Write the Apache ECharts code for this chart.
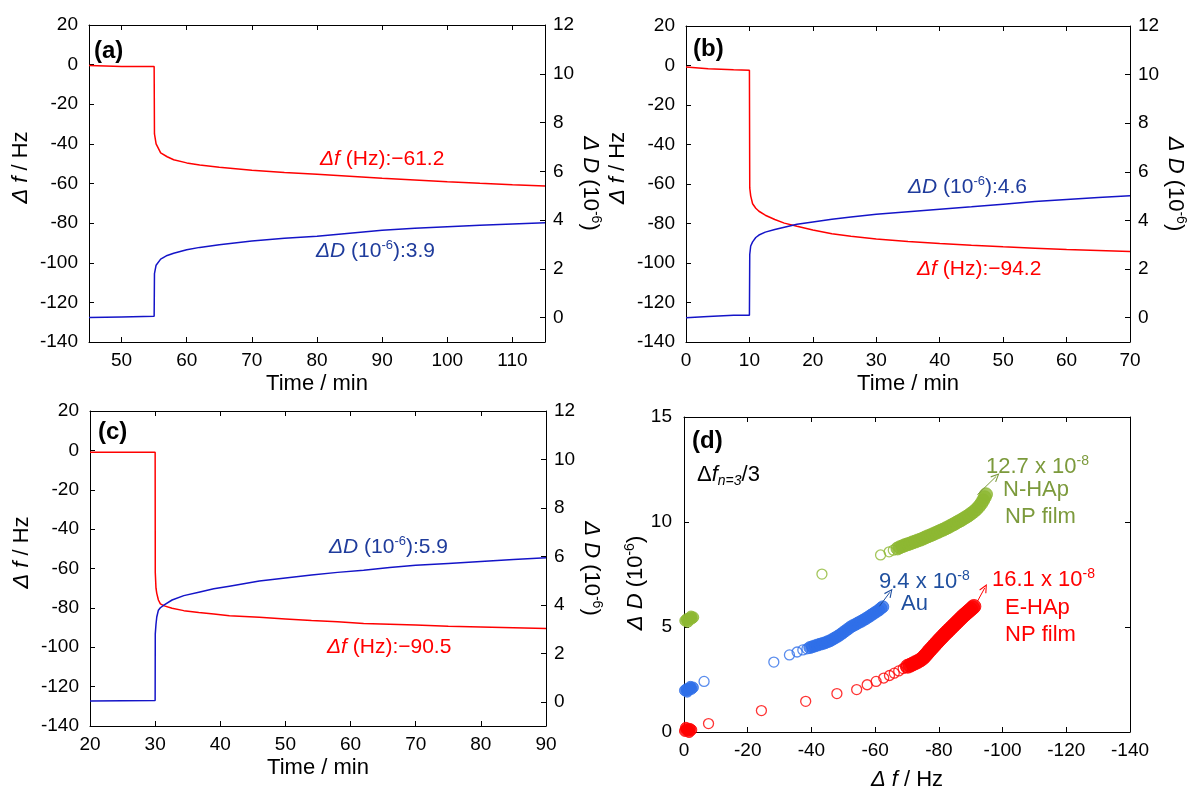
<!DOCTYPE html>
<html><head><meta charset="utf-8">
<script src="https://cdn.jsdelivr.net/npm/echarts@6/dist/echarts.min.js"></script>
<style>html,body{margin:0;padding:0;background:#fff}#c{width:1189px;height:787px}</style>
</head><body><div id="c"></div>
<script>
// ---------- Panel (a) ----------
const timeA = [45, 50, 55, 55.05, 55.3, 56, 57, 58, 60, 62, 65, 70, 75, 80, 85, 90, 95, 100, 105, 110, 115];
const dfA   = [-0.5, -1, -1, -35, -40, -44.5, -46.5, -48, -49.6, -50.7, -51.8, -53.3, -54.4, -55.3, -56.3, -57.3, -58.2, -59.1, -59.9, -60.6, -61.2];
const dDA   = [0, 0.03, 0.06, 1.8, 2.15, 2.4, 2.55, 2.64, 2.78, 2.88, 2.99, 3.14, 3.25, 3.34, 3.46, 3.58, 3.66, 3.73, 3.79, 3.84, 3.89];
const ticksA = [50, 60, 70, 80, 90, 100, 110];
// ---------- Panel (b) ----------
const timeB = [0, 3.5, 7.5, 10, 10.05, 10.2, 10.5, 11, 11.5, 12.5, 14, 15.5, 17.5, 20, 23, 26, 30, 35, 40, 45, 50, 55, 60, 65, 70];
const dfB   = [-0.8, -1.6, -2.2, -2.4, -62, -66, -70, -72.3, -73.8, -75.8, -78, -79.8, -81.4, -83.3, -85.2, -86.5, -87.8, -89.1, -90.1, -91.0, -91.8, -92.5, -93.2, -93.7, -94.2];
const dDB   = [0, 0.05, 0.1, 0.1, 2.6, 2.95, 3.12, 3.3, 3.4, 3.52, 3.63, 3.72, 3.84, 3.94, 4.05, 4.14, 4.26, 4.36, 4.46, 4.56, 4.67, 4.78, 4.86, 4.94, 5.02];
const ticksB = [0, 10, 20, 30, 40, 50, 60, 70];
// ---------- Panel (c) ----------
const timeC = [20, 30, 30.02, 30.13, 30.25, 30.5, 30.8, 31.4, 32.6, 34.4, 36.7, 39, 41.4, 46, 50, 54, 58, 62, 66, 70, 75, 80, 85, 90];
const dfC   = [-1, -1, -62, -70, -72.6, -76, -78, -79, -80.2, -81.4, -82.3, -83.1, -84, -84.8, -85.6, -86.4, -87.1, -87.9, -88.3, -88.7, -89.3, -89.7, -90.1, -90.5];
const dDC   = [0.03, 0.05, 2.8, 3.2, 3.5, 3.78, 3.88, 4.0, 4.2, 4.38, 4.52, 4.66, 4.77, 4.98, 5.11, 5.23, 5.34, 5.43, 5.54, 5.63, 5.71, 5.79, 5.87, 5.94];
const ticksC = [20, 30, 40, 50, 60, 70, 80, 90];
const ticksD  = [0, 2, 4, 6, 8, 10, 12];
// ---------- Panel (d): [Δf, ΔD] ----------
const nhapCluster = [[-0.4,5.30],[-0.9,5.38],[-1.4,5.34],[-1.9,5.42],[-2.4,5.40],[-2.9,5.46],[-1.2,5.25],[-2.2,5.50]];
const nhapSparse  = [[-43.3,7.52],[-61.7,8.43],[-64.4,8.58],[-65.7,8.66]];
const nhapDense   = [[-67.0,8.74],[-67.8,8.80],[-68.6,8.85],[-69.4,8.90],[-70.2,8.94],[-71.0,8.98],[-71.8,9.03],[-72.6,9.07],[-73.4,9.12],[-74.2,9.16],[-75.0,9.21],[-75.8,9.27],[-76.6,9.32],[-77.4,9.37],[-78.2,9.42],[-79.0,9.48],[-79.8,9.53],[-80.6,9.59],[-81.4,9.64],[-82.2,9.70],[-83.0,9.76],[-83.8,9.83],[-84.6,9.89],[-85.4,9.96],[-86.2,10.03],[-87.0,10.09],[-87.8,10.17],[-88.6,10.24],[-89.4,10.32],[-90.2,10.41],[-91.0,10.50],[-91.8,10.61],[-92.6,10.74],[-93.3,10.88],[-93.9,11.03],[-94.4,11.18],[-94.8,11.32]];
const auCluster = [[-0.3,1.98],[-0.8,2.04],[-1.3,2.00],[-1.8,2.08],[-2.3,2.05],[-2.8,2.12],[-1.0,1.92],[-2.0,2.15]];
const auSparse  = [[-6.3,2.41],[-28.2,3.33],[-33.1,3.67],[-35.5,3.81],[-37.3,3.91],[-38.6,3.96]];
const auDense   = [[-39.5,4.02],[-40.3,4.06],[-41.1,4.10],[-41.9,4.14],[-42.7,4.18],[-43.5,4.21],[-44.3,4.25],[-45.1,4.30],[-45.9,4.35],[-46.7,4.42],[-47.5,4.49],[-48.3,4.56],[-49.1,4.64],[-49.9,4.73],[-50.7,4.82],[-51.5,4.91],[-52.3,5.00],[-53.1,5.07],[-53.9,5.13],[-54.7,5.20],[-55.5,5.26],[-56.3,5.33],[-57.1,5.40],[-57.9,5.48],[-58.7,5.56],[-59.5,5.64],[-60.3,5.72],[-61.1,5.80],[-61.8,5.89],[-62.4,5.96]];
const ehapCluster = [[-0.3,0.05],[-0.8,0.12],[-1.3,0.08],[-1.8,0.15],[-2.3,0.10],[-0.6,0.20],[-1.6,0.00]];
const ehapSparse  = [[-7.7,0.40],[-24.3,1.02],[-38.2,1.46],[-48.0,1.83],[-54.2,2.02],[-57.5,2.25],[-60.3,2.41],[-62.7,2.57],[-64.5,2.69],[-66.0,2.80],[-67.4,2.91],[-68.8,3.02],[-69.6,3.08]];
const ehapDense   = [[-70.2,3.13],[-71.0,3.18],[-71.8,3.24],[-72.6,3.30],[-73.4,3.36],[-74.2,3.43],[-75.0,3.52],[-75.6,3.62],[-76.2,3.72],[-76.8,3.83],[-77.4,3.93],[-78.0,4.03],[-78.6,4.13],[-79.2,4.23],[-79.8,4.33],[-80.4,4.43],[-81.0,4.52],[-81.6,4.62],[-82.2,4.71],[-82.8,4.80],[-83.4,4.89],[-84.0,4.98],[-84.6,5.07],[-85.2,5.16],[-85.8,5.25],[-86.4,5.34],[-87.0,5.43],[-87.6,5.52],[-88.2,5.60],[-88.8,5.68],[-89.4,5.76],[-90.0,5.84],[-90.6,5.92],[-91.0,5.98]];

// ---------- styling ----------
const FONT = "'Liberation Sans', Arial, sans-serif";
const RED = '#ff0000', BLUE = '#1414c8', BLUETXT = '#1f3c9c';
const GREEN = '#8db832', GREENTXT = '#7c9a3c', BLUED = '#2f6fe8', BLUEDTXT = '#1f4f9f';
const TICK = 19, TITLE = 22;
const axLine = {show: true, onZero: false, lineStyle: {color: '#000', width: 1}};
const tick = (cv) => Object.assign({show: true, inside: true, length: 5, lineStyle: {color: '#000', width: 1}}, cv ? {customValues: cv} : {});
const lab = (cv, margin) => Object.assign({color: '#000', fontFamily: FONT, fontSize: TICK, margin: margin}, cv ? {customValues: cv} : {});
const nameRich = {
  i: {fontStyle: 'italic', fontFamily: FONT, fontSize: TITLE, color: '#000', lineHeight: 26},
  n: {fontFamily: FONT, fontSize: TITLE, color: '#000', lineHeight: 26},
  s: {fontFamily: FONT, fontSize: 14, color: '#000', lineHeight: 13, verticalAlign: 'top'}
};

const grids = [
  {left: 89, top: 25, width: 456, height: 317, outerBoundsMode: 'none', containLabel: false},
  {left: 686, top: 26, width: 444, height: 316, outerBoundsMode: 'none', containLabel: false},
  {left: 90, top: 411, width: 456, height: 315, outerBoundsMode: 'none', containLabel: false},
  {left: 684, top: 417, width: 446, height: 315, outerBoundsMode: 'none', containLabel: false}
];

const xAxis = [], yAxis = [];
function timePanel(g, min, max, ticks) {
  xAxis.push({type: 'value', gridIndex: g, position: 'bottom', min, max,
    axisLine: axLine, axisTick: tick(ticks), axisLabel: lab(ticks, 9), splitLine: {show: false},
    name: '{n|Time / min}', nameLocation: 'middle', nameGap: 29, nameTextStyle: {rich: nameRich}});
  xAxis.push({type: 'value', gridIndex: g, position: 'top', min, max,
    axisLine: axLine, axisTick: tick(ticks), axisLabel: {show: false}, splitLine: {show: false}});
  yAxis.push({type: 'value', gridIndex: g, position: 'left', min: -140, max: 20, interval: 20,
    axisLine: axLine, axisTick: tick(), axisLabel: lab(null, 11), splitLine: {show: false},
    name: '{i|Δ f}{n| / Hz}', nameLocation: 'middle', nameRotate: 90, nameGap: 55,
    nameTextStyle: {rich: nameRich, padding: [0, 0, 0, 32]}});
  yAxis.push({type: 'value', gridIndex: g, position: 'right', min: -1, max: 12,
    axisLine: axLine, axisTick: tick(ticksD), axisLabel: lab(ticksD, 8), splitLine: {show: false},
    name: '{i|Δ D}{n| (10}{s|-6}{n|)}', nameLocation: 'middle', nameRotate: -90, nameGap: 32,
    nameTextStyle: {rich: nameRich}});
}
timePanel(0, 45, 115, ticksA);
timePanel(1, 0, 70, ticksB);
timePanel(2, 20, 90, ticksC);
// panel d
xAxis.push({type: 'value', gridIndex: 3, position: 'bottom', min: -140, max: 0, interval: 20, inverse: true,
  axisLine: axLine, axisTick: tick(), axisLabel: lab(null, 9), splitLine: {show: false},
  name: '{i|Δ f}{n| / Hz}', nameLocation: 'middle', nameGap: 35, nameTextStyle: {rich: nameRich}});
xAxis.push({type: 'value', gridIndex: 3, position: 'top', min: -140, max: 0, interval: 20, inverse: true,
  axisLine: axLine, axisTick: tick(), axisLabel: {show: false}, splitLine: {show: false}});
yAxis.push({type: 'value', gridIndex: 3, position: 'left', min: 0, max: 15, interval: 5,
  axisLine: axLine, axisTick: tick(), axisLabel: lab(null, 12), splitLine: {show: false},
  name: '{i|Δ D}{n| (10}{s|-6}{n|)}', nameLocation: 'middle', nameRotate: 90, nameGap: 30,
  nameTextStyle: {rich: nameRich, padding: [0, 17, 0, 0]}});
yAxis.push({type: 'value', gridIndex: 3, position: 'right', min: 0, max: 15, interval: 5,
  axisLine: axLine, axisTick: tick(), axisLabel: {show: false}, splitLine: {show: false}});

const zip = (xs, ys) => xs.map((x, i) => [x, ys[i]]);
const lineS = (xi, yi, data, color) => ({type: 'line', xAxisIndex: xi, yAxisIndex: yi, data, showSymbol: false,
  symbol: 'none', lineStyle: {color, width: 1.5}, itemStyle: {color}, animation: false, z: 3});

const CHEV = 'path://M5,0 L10,9 L8.8,9.6 L5,2.6 L1.2,9.6 L0,9 Z';
const arrow = (from, to, color) => ({silent: true, symbol: ['none', CHEV], symbolSize: [8, 9], animation: false,
  lineStyle: {color, width: 1, type: 'solid'}, label: {show: false}, emphasis: {disabled: true},
  data: [[{coord: from}, {coord: to}]]});
const hollow = (data, color) => ({type: 'scatter', xAxisIndex: 6, yAxisIndex: 6, data, symbol: 'circle', symbolSize: 10,
  itemStyle: {color: 'rgba(0,0,0,0)', borderColor: color, borderWidth: 1.3}, animation: false});
const filled = (data, color, size, extra) => Object.assign({type: 'scatter', xAxisIndex: 6, yAxisIndex: 6, data, symbol: 'circle', symbolSize: size,
  itemStyle: {color, borderColor: color, borderWidth: 1}, animation: false}, extra || {});

const series = [
  lineS(0, 0, zip(timeA, dfA), RED), lineS(0, 1, zip(timeA, dDA), BLUE),
  lineS(2, 2, zip(timeB, dfB), RED), lineS(2, 3, zip(timeB, dDB), BLUE),
  lineS(4, 4, zip(timeC, dfC), RED), lineS(4, 5, zip(timeC, dDC), BLUE),
  filled(nhapCluster, GREEN, 11), hollow(nhapSparse, GREEN),
  filled(nhapDense, GREEN, 13, {markLine: arrow([-92.1, 11.3], [-98, 12.17], GREENTXT)}),
  filled(auCluster, BLUED, 11), hollow(auSparse, BLUED),
  filled(auDense, BLUED, 12, {markLine: arrow([-61.3, 5.98], [-64.6, 6.65], BLUEDTXT)}),
  filled(ehapCluster, RED, 11), hollow(ehapSparse, RED),
  filled(ehapDense, RED, 14, {markLine: arrow([-92.1, 6.22], [-94.4, 6.86], RED)})
];

// ---------- annotations ----------
function txt(x, y, text, color, size, extra) {
  const base = {fontFamily: FONT, fontSize: size, fill: color, lineHeight: size + 4};
  return {type: 'text', x, y, silent: true, z: 10, style: Object.assign({
    text, fontFamily: FONT, fontSize: size, fill: color, verticalAlign: 'middle', align: 'left',
    rich: {
      i: Object.assign({}, base, {fontStyle: 'italic'}),
      n: Object.assign({}, base),
      b: Object.assign({}, base, {fontWeight: 'bold'}),
      s: {fontFamily: FONT, fontSize: Math.round(size * 0.62), fill: color, lineHeight: Math.round(size * 0.6), verticalAlign: 'top'},
      u: {fontFamily: FONT, fontSize: Math.round(size * 0.62), fill: color, fontStyle: 'italic', lineHeight: Math.round(size * 0.6), verticalAlign: 'bottom'}
    }}, extra || {})};
}
const graphic = [
  txt(94, 51, '{b|(a)}', '#000', 24),
  txt(693, 49, '{b|(b)}', '#000', 24),
  txt(98, 432, '{b|(c)}', '#000', 24),
  txt(692, 441, '{b|(d)}', '#000', 24),
  txt(320, 159, '{i|Δf}{n| (Hz):−61.2}', RED, 21),
  txt(316, 251, '{i|ΔD}{n| (10}{s|-6}{n|):3.9}', BLUETXT, 21),
  txt(908, 187, '{i|ΔD}{n| (10}{s|-6}{n|):4.6}', BLUETXT, 21),
  txt(917, 269, '{i|Δf}{n| (Hz):−94.2}', RED, 21),
  txt(329, 547, '{i|ΔD}{n| (10}{s|-6}{n|):5.9}', BLUETXT, 21),
  txt(327, 647, '{i|Δf}{n| (Hz):−90.5}', RED, 21),
  txt(697, 475, '{n|Δ}{i|f}{u|n=3}{n|/3}', '#000', 22),
  txt(986, 467, '{n|12.7 x 10}{s|-8}', GREENTXT, 22),
  txt(1003, 490, '{n|N-HAp}', GREENTXT, 22),
  txt(1005, 517, '{n|NP film}', GREENTXT, 22),
  txt(879, 582, '{n|9.4 x 10}{s|-8}', BLUEDTXT, 22),
  txt(901, 604, '{n|Au}', BLUEDTXT, 22),
  txt(992, 580, '{n|16.1 x 10}{s|-8}', RED, 22),
  txt(1005, 608, '{n|E-HAp}', RED, 22),
  txt(1005, 635, '{n|NP film}', RED, 22)
];

const chart = echarts.init(document.getElementById('c'), null, {renderer: 'canvas'});
chart.setOption({animation: false, backgroundColor: '#fff', grid: grids, xAxis, yAxis, series, graphic,
  textStyle: {fontFamily: FONT}});
</script></body></html>
